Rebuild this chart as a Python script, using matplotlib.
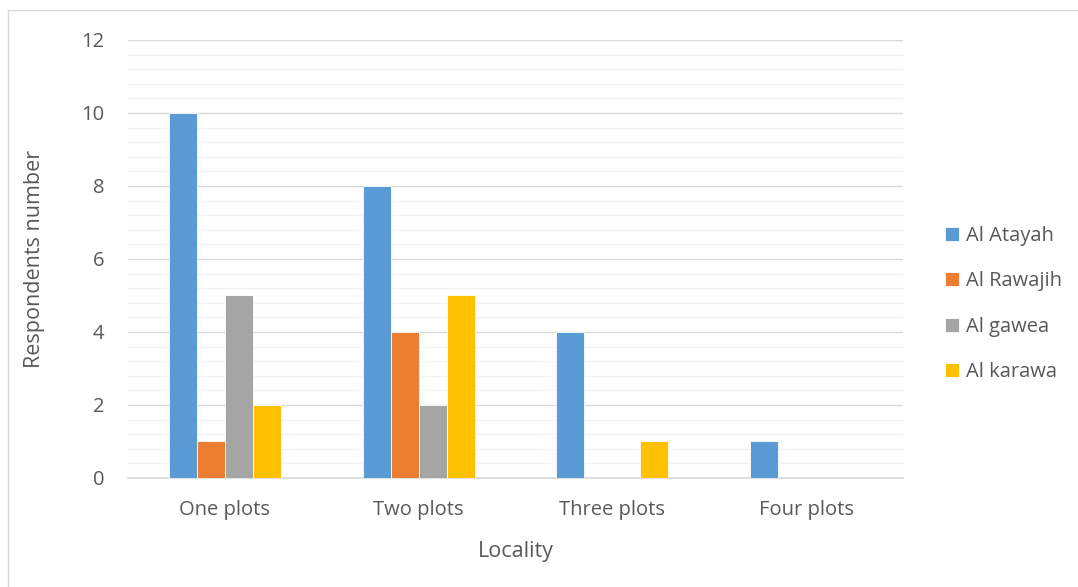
import matplotlib
matplotlib.use("Agg")
import matplotlib.pyplot as plt
import numpy as np
from matplotlib.patches import Rectangle
from matplotlib.ticker import MultipleLocator

categories = ["One plots", "Two plots", "Three plots", "Four plots"]
series_names = ["Al Atayah", "Al Rawajih", "Al gawea", "Al karawa"]
al_atayah = [10, 8, 4, 1]
al_rawajih = [1, 4, 0, 0]
al_gawea = [5, 2, 0, 0]
al_karawa = [2, 5, 1, 0]
colors = ["#5B9BD5", "#ED7D31", "#A5A5A5", "#FFC000"]

plt.rcParams['font.family'] = ['Open Sans', 'DejaVu Sans']
text_color = "#595959"

fig = plt.figure(figsize=(10.78, 5.87), dpi=100)
ax = fig.add_axes([0.1187, 0.1857, 0.7190, 0.7462])

x = np.arange(len(categories))
bar_w = 0.1445
series = [al_atayah, al_rawajih, al_gawea, al_karawa]
for i, (name, vals, c) in enumerate(zip(series_names, series, colors)):
    offs = (i - 1.5) * bar_w
    ax.bar(x + offs, vals, width=bar_w, color=c, label=name,
           edgecolor="white", linewidth=0.6, zorder=3)

ax.set_xlim(-0.5, len(categories) - 0.5)
ax.set_ylim(0, 12)
ax.yaxis.set_major_locator(MultipleLocator(2))
ax.yaxis.set_minor_locator(MultipleLocator(0.4))
ax.grid(axis='y', which='major', color="#D9D9D9", linewidth=1.0, zorder=0)
ax.grid(axis='y', which='minor', color="#F2F2F2", linewidth=1.0, zorder=0)
ax.set_xticks(x)
ax.set_xticklabels(categories)
ax.tick_params(axis='both', which='both', length=0, labelsize=14.5, colors=text_color)
ax.tick_params(axis='x', pad=16)
ax.tick_params(axis='y', pad=17)
for s in ["top", "right", "left"]:
    ax.spines[s].set_visible(False)
ax.spines["bottom"].set_color("#D9D9D9")
ax.spines["bottom"].set_linewidth(1.2)

ax.set_xlabel("Locality", fontsize=15.5, color=text_color, labelpad=15)
ax.set_ylabel("Respondents number", fontsize=15.5, color=text_color, labelpad=26)

leg = fig.legend(loc="center left", bbox_to_anchor=(0.860, 0.482), frameon=False,
                 fontsize=14.5, labelcolor=text_color, handlelength=0.7,
                 handleheight=0.7, handletextpad=0.35, labelspacing=1.25)

fig.patches.append(Rectangle((0.007, -0.02), 1.1, 1.003, transform=fig.transFigure,
                             fill=False, edgecolor="#D9D9D9", linewidth=1.0))

fig.savefig("out.png", dpi=100)
